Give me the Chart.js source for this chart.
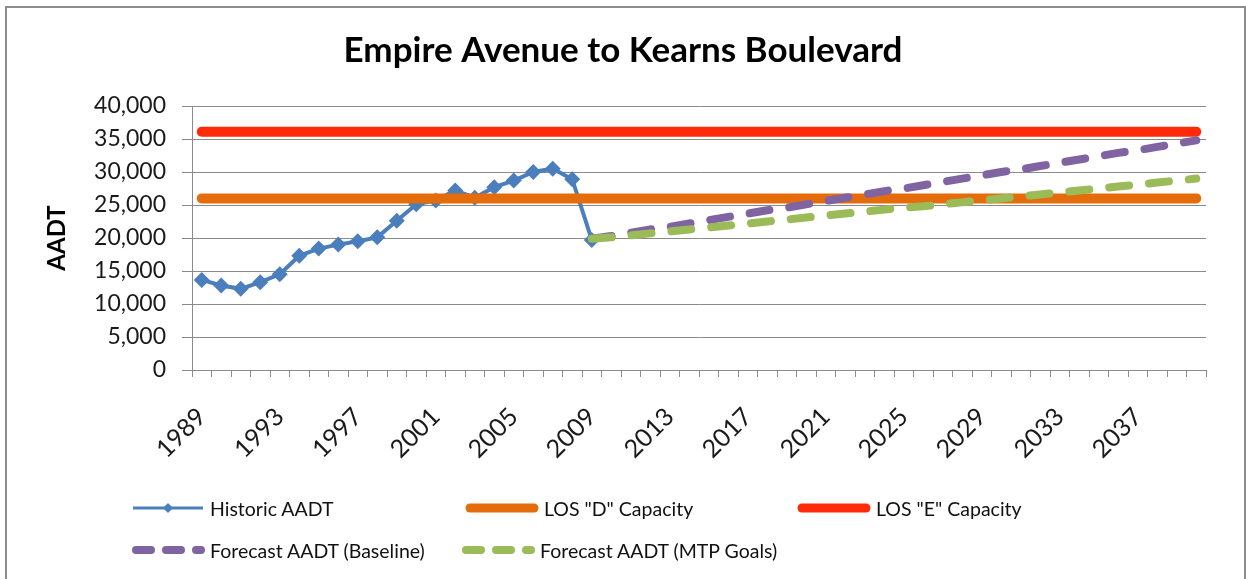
<!DOCTYPE html>
<html>
<head>
<meta charset="utf-8">
<script src="https://cdn.jsdelivr.net/npm/chart.js@4.4.1/dist/chart.umd.min.js"></script>
<style>
  body { margin: 0; background: #fff; font-family: Lato, sans-serif; }
  #wrap { position: relative; width: 1246px; height: 579px; overflow: hidden; }
  #frame { position: absolute; left: 5px; top: 6px; width: 1241px; height: 620px; border: 2px solid #8c8c8c; box-sizing: border-box; }
  canvas { position: absolute; left: 0; top: 0; }
  .item { position: absolute; display: flex; align-items: center; height: 24px; font-size: 19.5px; color: #111; white-space: nowrap; }
  .item svg { margin-right: 5px; }
</style>
</head>
<body>
<div id="wrap">
  <div id="frame"></div>
  <canvas id="myChart" width="1246" height="579"></canvas>
  <div id="legend"></div>
</div>
<script>
const years = ['1989', '1990', '1991', '1992', '1993', '1994', '1995', '1996', '1997', '1998',
    '1999', '2000', '2001', '2002', '2003', '2004', '2005', '2006', '2007', '2008',
    '2009', '2010', '2011', '2012', '2013', '2014', '2015', '2016', '2017', '2018',
    '2019', '2020', '2021', '2022', '2023', '2024', '2025', '2026', '2027', '2028',
    '2029', '2030', '2031', '2032', '2033', '2034', '2035', '2036', '2037', '2038',
    '2039', '2040'];
const tickYears = ['1989', '1993', '1997', '2001', '2005', '2009', '2013', '2017', '2021', '2025', '2029', '2033', '2037'];

// 1989 - 2009
const historic = [13650, 12800, 12300, 13300, 14500, 17300, 18400, 19000, 19500, 20100,
    22600, 25100, 25700, 27200, 26100, 27700, 28700, 30000, 30500, 28900, 19700];

// 2009 - 2040
const baseline = [19900, 20300, 20800, 21300, 21700, 22200, 22700, 23200, 23700, 24200,
    24600, 25100, 25600, 26100, 26600, 27100, 27500, 28000, 28500, 29000,
    29500, 30000, 30400, 30900, 31400, 31900, 32400, 32900, 33300, 33800, 34300, 34800];
const mtpGoals = [19900, 20100, 20400, 20700, 21000, 21300, 21600, 21900, 22200, 22500,
    22800, 23100, 23400, 23700, 24000, 24300, 24600, 24800, 25100, 25400,
    25700, 26000, 26300, 26600, 26900, 27200, 27500, 27800, 28100, 28400, 28700, 29000];

const losD = 26000;
const losE = 36100;

const blue = '#4a7ebd';
const orange = '#e46c0a';
const red = '#ff2a0a';
const purple = '#8064a2';
const green = '#9bbb59';
const gridColor = '#8a8a8a';

const place = (arr, startYear) => {
    const start = years.indexOf(startYear);
    return years.map((y, i) => (i >= start && i - start < arr.length) ? arr[i - start] : null);
};

const dataChart = {
    labels: years,
    datasets: [{
        label: 'Historic AADT',
        data: place(historic, '1989'),
        borderColor: blue,
        backgroundColor: blue,
        borderWidth: 4,
        pointStyle: 'rectRot',
        pointRadius: 8,
        pointBorderWidth: 0,
        tension: 0,
        order: 5
    }, {
        label: 'LOS "D" Capacity',
        data: years.map(() => losD),
        borderColor: orange,
        borderWidth: 10,
        borderCapStyle: 'round',
        pointRadius: 0,
        order: 4
    }, {
        label: 'LOS "E" Capacity',
        data: years.map(() => losE),
        borderColor: red,
        borderWidth: 10,
        borderCapStyle: 'round',
        pointRadius: 0,
        order: 3
    }, {
        label: 'Forecast AADT (Baseline)',
        data: place(baseline, '2009'),
        borderColor: purple,
        borderWidth: 8,
        borderDash: [20, 20],
        borderCapStyle: 'round',
        pointRadius: 0,
        order: 2
    }, {
        label: 'Forecast AADT (MTP Goals)',
        data: place(mtpGoals, '2009'),
        borderColor: green,
        borderWidth: 8,
        borderDash: [20, 20],
        borderCapStyle: 'round',
        pointRadius: 0,
        order: 1
    }]
};

Chart.defaults.font.family = 'Lato, sans-serif';
Chart.defaults.color = '#1a1a1a';

const ctx = document.getElementById('myChart').getContext('2d');
const myChart = new Chart(ctx, {
    type: 'line',
    data: dataChart,
    options: {
        responsive: false,
        animation: false,
        layout: {
            padding: 0
        },
        plugins: {
            legend: { display: false },
            tooltip: { enabled: false },
            title: {
                display: true,
                text: 'Empire Avenue to Kearns Boulevard',
                color: '#000',
                font: { size: 35, weight: 'bold' },
                padding: { top: 30, bottom: 34 }
            }
        },
        scales: {
            x: {
                offset: true,
                grid: { offset: true, drawOnChartArea: false, tickLength: 7, color: gridColor },
                border: { color: gridColor },
                ticks: {
                    autoSkip: false,
                    minRotation: 45,
                    maxRotation: 45,
                    padding: 25,
                    font: { size: 25 },
                    callback: function (value, index) {
                        const y = years[index];
                        return tickYears.includes(y) ? y : '';
                    }
                },
                afterFit: (scale) => { scale.height = 209; }
            },
            y: {
                min: 0,
                max: 40000,
                grid: { color: gridColor, tickLength: 10 },
                border: { color: gridColor },
                ticks: {
                    stepSize: 5000,
                    padding: 16,
                    font: { size: 23 },
                    callback: (v) => v.toLocaleString('en-US')
                },
                title: {
                    display: true,
                    text: 'AADT',
                    color: '#000',
                    font: { size: 24, weight: 'bold' },
                    padding: { top: 43, bottom: 0 }
                },
                afterFit: (scale) => { scale.width = 192; }
            },
            // empty right-hand strip so the title stays centred on the whole frame
            spacer: {
                type: 'linear',
                position: 'right',
                grid: { display: false },
                border: { display: false },
                ticks: { display: false },
                afterFit: (scale) => { scale.width = 40; }
            }
        }
    }
});

// legend laid out like the Excel one (two rows, fixed columns)
const legendSpots = [[131, 496], [465, 496], [797, 496], [131, 538], [461, 538]];
const legend = document.getElementById('legend');
myChart.data.datasets.forEach((ds, i) => {
    let sample;
    if (i === 0) {
        sample = `<line x1="2" y1="12" x2="72" y2="12" stroke="${ds.borderColor}" stroke-width="3"/>` +
            `<polygon points="37,7 42,12 37,17 32,12" fill="${ds.borderColor}"/>`;
    } else if (ds.borderDash) {
        sample = `<line x1="5" y1="12" x2="70" y2="12" stroke="${ds.borderColor}" stroke-width="8" stroke-linecap="round" stroke-dasharray="15 15"/>`;
    } else {
        sample = `<line x1="5" y1="12" x2="69" y2="12" stroke="${ds.borderColor}" stroke-width="9" stroke-linecap="round"/>`;
    }
    const item = document.createElement('div');
    item.className = 'item';
    item.style.left = legendSpots[i][0] + 'px';
    item.style.top = legendSpots[i][1] + 'px';
    item.innerHTML = `<svg width="74" height="24">${sample}</svg>`;
    const span = document.createElement('span');
    span.textContent = ds.label;
    item.appendChild(span);
    legend.appendChild(item);
});
</script>
</body>
</html>
